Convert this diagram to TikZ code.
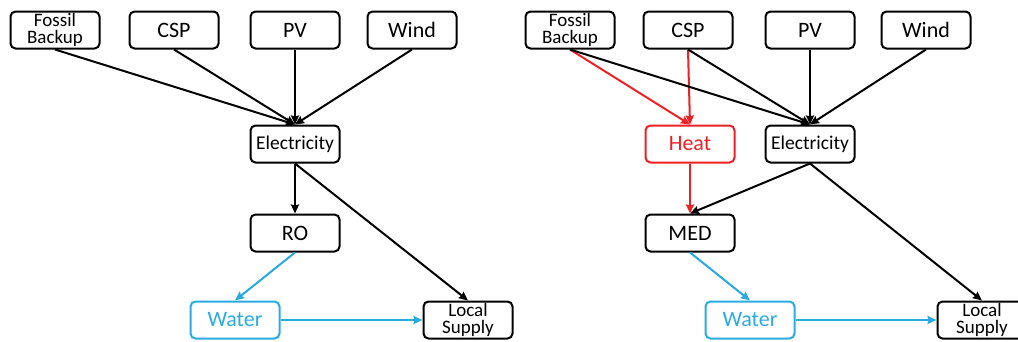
\documentclass[tikz,border=0pt]{standalone}
\usepackage{fontspec}
\setmainfont{Carlito}
\usetikzlibrary{arrows.meta}
\definecolor{heatred}{RGB}{237,32,36}
\definecolor{waterblue}{RGB}{41,171,226}
\begin{document}
\begin{tikzpicture}[x=1pt,y=-1pt,
  box/.style={draw, line width=2pt, rounded corners=5pt, minimum width=89pt,
    minimum height=37pt, inner sep=0pt, align=center,
    font=\fontsize{22}{22}\selectfont},
  twoline/.style={font=\fontsize{19}{17}\selectfont},
  midtext/.style={font=\fontsize{19.5}{19.5}\selectfont},
  flow/.style={-{Stealth[length=9pt,width=8pt,inset=1pt]}, line width=2pt},
  heatbox/.style={box, draw=heatred, text=heatred},
  waterbox/.style={box, draw=waterblue, text=waterblue},
  heatflow/.style={flow, draw=heatred},
  waterflow/.style={flow, draw=waterblue}]
\useasboundingbox (0,0) rectangle (1018,341);

% ---- reverse osmosis system ----
\node[box, twoline] (fbA) at (55,30) {Fossil\\Backup};
\node[box] (cspA) at (174,30) {CSP};
\node[box] (pvA) at (295,30) {PV};
\node[box] (windA) at (412,30) {Wind};
\node[box, midtext] (elA) at (295,144) {Electricity};
\node[box] (ro) at (295,233) {RO};
\node[waterbox] (waterA) at (235,320) {Water};
\node[box, twoline] (lsA) at (468,320) {Local\\Supply};

\draw[flow] (fbA.south) -- (elA.north);
\draw[flow] (cspA.south) -- (elA.north);
\draw[flow] (pvA.south) -- (elA.north);
\draw[flow] (windA.south) -- (elA.north);
\draw[flow] (elA.south) -- (ro.north);
\draw[flow] (elA.south) -- (lsA.north);
\draw[waterflow] (ro.south) -- (waterA.north);
\draw[waterflow] (waterA.east) -- (lsA.west);

% ---- multi-effect distillation system ----
\node[box, twoline] (fbB) at (570,30) {Fossil\\Backup};
\node[box] (cspB) at (688,30) {CSP};
\node[box] (pvB) at (810,30) {PV};
\node[box] (windB) at (926,30) {Wind};
\node[heatbox] (heat) at (690,144) {Heat};
\node[box, midtext] (elB) at (810,144) {Electricity};
\node[box] (med) at (690,233) {MED};
\node[waterbox] (waterB) at (750,320) {Water};
\node[box, twoline] (lsB) at (982,320) {Local\\Supply};

\draw[heatflow] (fbB.south) -- (heat.north);
\draw[heatflow] (cspB.south) -- (heat.north);
\draw[flow] (fbB.south) -- (elB.north);
\draw[flow] (cspB.south) -- (elB.north);
\draw[flow] (pvB.south) -- (elB.north);
\draw[flow] (windB.south) -- (elB.north);
\draw[heatflow] (heat.south) -- (med.north);
\draw[flow] (elB.south) -- (med.north);
\draw[flow] (elB.south) -- (lsB.north);
\draw[waterflow] (med.south) -- (waterB.north);
\draw[waterflow] (waterB.east) -- (lsB.west);
\end{tikzpicture}
\end{document}
